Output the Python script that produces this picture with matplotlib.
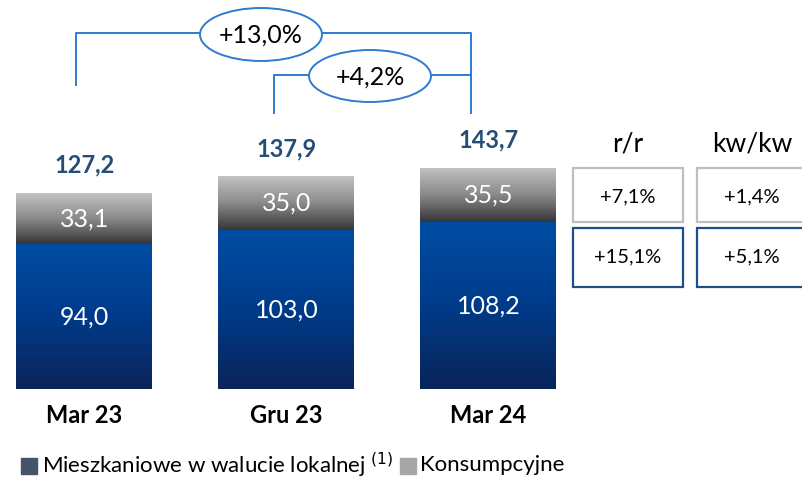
import numpy as np
import matplotlib
matplotlib.use('Agg')
import matplotlib.pyplot as plt
from matplotlib.patches import Ellipse, Rectangle
from matplotlib.colors import LinearSegmentedColormap

plt.rcParams['font.family'] = ['Lato', 'DejaVu Sans']

# data
categories = ['Mar 23', 'Gru 23', 'Mar 24']
mieszkaniowe = [94.0, 103.0, 108.2]
konsumpcyjne = [33.1, 35.0, 35.5]
totals = [127.2, 137.9, 143.7]
growth_labels = ['+13,0%', '+4,2%']
table_headers = ['r/r', 'kw/kw']
table_konsump = ['+7,1%', '+1,4%']
table_mieszk = ['+15,1%', '+5,1%']
legend_labels = ['Mieszkaniowe w walucie lokalnej $^{(1)}$', 'Konsumpcyjne']

def fmt(v):
    return f'{v:.1f}'.replace('.', ',')

W, H = 803, 479
fig = plt.figure(figsize=(W / 100, H / 100), dpi=100)

# bar axes: bottom at y=389 px, ~1.54 px per unit
scale = 1.54
base = 389
ax = fig.add_axes([0, (H - base) / H, 1, base / H])
ax.set_ylim(0, base / scale)
step = 202
c0 = 84.5
ax.axis('off')

x = np.arange(len(categories))
width = 136 / step

blue_cmap = LinearSegmentedColormap.from_list('b', ['#0A2458', '#003B8A', '#004DA3'])
gray_cmap = LinearSegmentedColormap.from_list('g', ['#363636', '#8A8A8A', '#C2C2C2'])
grad = np.linspace(0, 1, 256).reshape(-1, 1)

b1 = ax.bar(x, mieszkaniowe, width, color='none')
b2 = ax.bar(x, konsumpcyjne, width, bottom=mieszkaniowe, color='none')
for bars, cmap in [(b1, blue_cmap), (b2, gray_cmap)]:
    for r in bars:
        x0, y0 = r.get_x(), r.get_y()
        im = ax.imshow(grad, cmap=cmap, origin='lower', aspect='auto',
                       extent=[x0, x0 + r.get_width(), y0, y0 + r.get_height()],
                       zorder=1)
        im.set_clip_path(r)

for i in range(len(categories)):
    ax.text(x[i], mieszkaniowe[i] / 2, fmt(mieszkaniowe[i]),
            ha='center', va='center', color='white', fontsize=18, zorder=3)
    ax.text(x[i], mieszkaniowe[i] + konsumpcyjne[i] / 2, fmt(konsumpcyjne[i]),
            ha='center', va='center', color='white', fontsize=18, zorder=3)
    ax.text(x[i], totals[i] + 18, fmt(totals[i]),
            ha='center', va='center', color='#244D77', fontsize=17,
            fontweight='bold', zorder=3)
    ax.text(x[i], -17, categories[i], ha='center', va='center',
            color='black', fontsize=17, fontweight='bold')
ax.set_xlim(-c0 / step, (W - c0) / step)

# overlay in pixel coords
ov = fig.add_axes([0, 0, 1, 1], zorder=5)
ov.set_xlim(0, W)
ov.set_ylim(H, 0)
ov.axis('off')
ov.patch.set_alpha(0)

lc = '#2E7BD0'
ov.plot([76, 76, 471, 471], [85, 33, 33, 113], color=lc, lw=1.4)
ov.plot([274, 274, 471], [113, 75, 75], color=lc, lw=1.4)
for (cx, cy, h), lab in zip([(261, 34.5, 53), (370, 76, 52)], growth_labels):
    ov.add_patch(Ellipse((cx, cy), 122, h, facecolor='white', edgecolor=lc, lw=1.4, zorder=3))
    ov.text(cx, cy + 1, lab, ha='center', va='center', fontsize=18, color='black', zorder=4)

# right table
cols = [628, 752]
lefts = [573, 697]
for c, hdr in zip(cols, table_headers):
    ov.text(c, 144, hdr, ha='center', va='center', fontsize=19, color='black')
for l, t1, t2 in zip(lefts, table_konsump, table_mieszk):
    ov.add_patch(Rectangle((l, 168), 110, 54, facecolor='white', edgecolor='#BFBFBF', lw=1.6))
    ov.text(l + 55, 197, t1, ha='center', va='center', fontsize=14.5)
    ov.add_patch(Rectangle((l, 228), 110, 59, facecolor='white', edgecolor='#1F4E8C', lw=1.6))
    ov.text(l + 55, 257, t2, ha='center', va='center', fontsize=14.5)

# legend
ov.add_patch(Rectangle((21, 458), 16, 16, color='#44546A'))
t = ov.text(42, 465, legend_labels[0], ha='left', va='center', fontsize=16)
fig.canvas.draw()
bb = t.get_window_extent().transformed(ov.transData.inverted())
x1 = max(bb.x0, bb.x1) + 7
ov.add_patch(Rectangle((x1, 458), 16, 16, color='#A6A6A6'))
ov.text(x1 + 20, 465, legend_labels[1], ha='left', va='center', fontsize=16)

fig.savefig('out.png', dpi=100)
